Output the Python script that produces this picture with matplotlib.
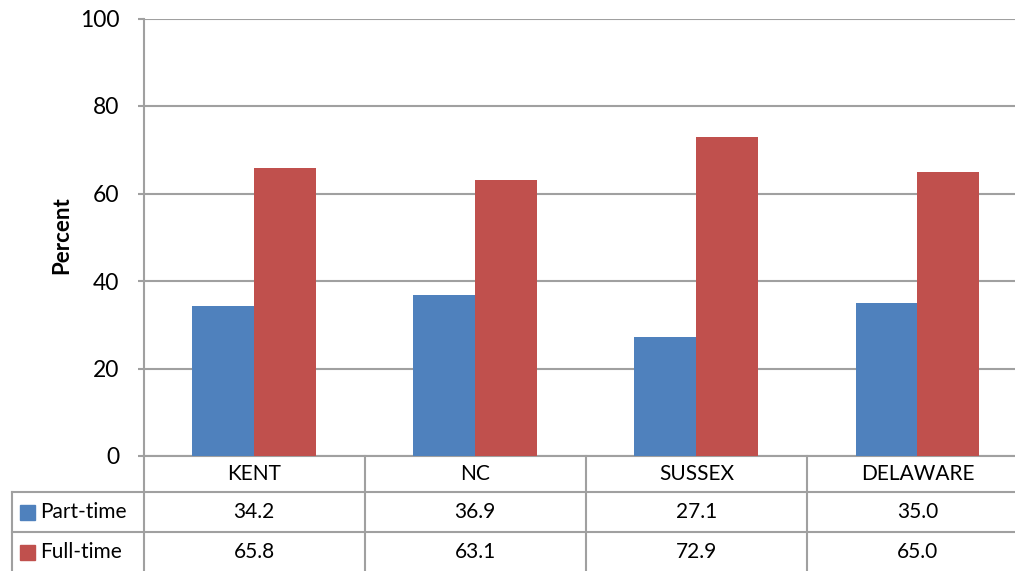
import matplotlib.pyplot as plt
import matplotlib.transforms as mtransforms
from matplotlib.patches import Rectangle

categories = ['KENT', 'NC', 'SUSSEX', 'DELAWARE']
part_time = [34.2, 36.9, 27.1, 35.0]
full_time = [65.8, 63.1, 72.9, 65.0]
series_names = ['Part-time', 'Full-time']
colors = ['#4F81BD', '#C0504D']
yticks = [0, 20, 40, 60, 80, 100]

W, H = 1015, 571
grid_col = '#A0A0A0'
plt.rcParams['font.family'] = ['Lato', 'DejaVu Sans']

fig = plt.figure(figsize=(W / 100, H / 100), dpi=100)

def fy(py):
    # pixel row -> figure fraction
    return 1 - py / H

ax = fig.add_axes([143.5 / W, fy(456), (1028 - 143.5) / W, (456 - 18.5) / H])

x = list(range(len(categories)))
bw = 0.28
ax.bar([i - bw / 2 for i in x], part_time, bw, color=colors[0], zorder=3)
ax.bar([i + bw / 2 for i in x], full_time, bw, color=colors[1], zorder=3)

ax.set_xlim(-0.5, len(categories) - 0.5)
ax.set_ylim(0, 100)
ax.set_yticks(yticks)
ax.yaxis.grid(True, color=grid_col, linewidth=1.5, zorder=0)
ax.tick_params(axis='y', length=4.3, width=1.5, color=grid_col, pad=13, labelsize=16.5)
ax.tick_params(axis='x', bottom=False, labelbottom=False)
for s in ['top', 'right']:
    ax.spines[s].set_visible(False)
for s in ['left', 'bottom']:
    ax.spines[s].set_color(grid_col)
    ax.spines[s].set_linewidth(1.5)

fig.text(62 / W, fy(235), 'Percent', rotation=90, fontweight='bold',
         fontsize=16, ha='center', va='center')

# data table below the axis
tr = mtransforms.blended_transform_factory(ax.transData, fig.transFigure)
lw = 1.5
# vertical separators between categories
for b in [i - 0.5 for i in range(len(categories) + 1)]:
    ax.plot([b, b], [fy(456), fy(571)], color=grid_col, lw=lw,
            transform=tr, clip_on=False)
# horizontal row lines from the legend column to the right
for py in [492, 532]:
    fig.add_artist(plt.Line2D([12 / W, 1], [fy(py), fy(py)], color=grid_col,
                              lw=lw, transform=fig.transFigure))
fig.add_artist(plt.Line2D([12 / W, 12 / W], [fy(492), fy(571)], color=grid_col,
                          lw=lw, transform=fig.transFigure))

fs = 15
for i, c in enumerate(categories):
    ax.text(i, fy(474), c, transform=tr, ha='center', va='center', fontsize=fs)
    ax.text(i, fy(512), f'{part_time[i]:.1f}', transform=tr, ha='center',
            va='center', fontsize=fs)
    ax.text(i, fy(552), f'{full_time[i]:.1f}', transform=tr, ha='center',
            va='center', fontsize=fs)

for j, (name, py) in enumerate(zip(series_names, [512, 552])):
    fig.add_artist(Rectangle((20 / W, fy(py + 8)), 15 / W, 15 / H,
                             color=colors[j], transform=fig.transFigure))
    fig.text(40 / W, fy(py), name, ha='left', va='center', fontsize=fs)

fig.savefig('out.png', dpi=100)
